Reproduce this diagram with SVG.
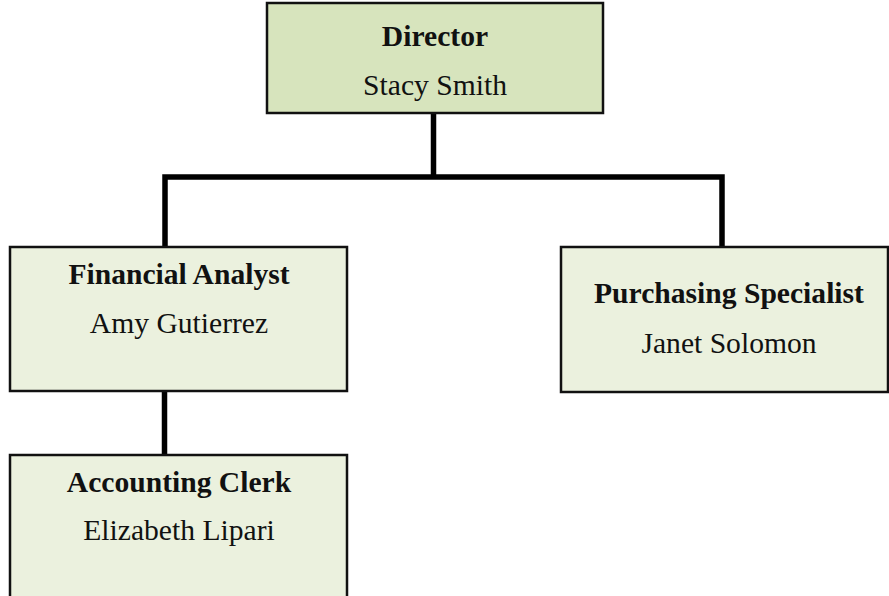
<svg xmlns="http://www.w3.org/2000/svg" width="889" height="596" viewBox="0 0 889 596">
<style>
.box{stroke:#111;stroke-width:2.5}
.top{fill:#d7e4bd}
.sub{fill:#ebf1de}
.t{font-family:"Liberation Serif","Times New Roman",serif;font-size:29.6px;fill:#111;text-anchor:middle}
.b{font-weight:bold}
.c{stroke:#000;stroke-width:5.5;fill:none}
</style>
<rect width="889" height="596" fill="#fff"/>
<g id="connectors">
<line class="c" x1="433.5" y1="113" x2="433.5" y2="177"/>
<polyline class="c" points="165,247 165,177 722,177 722,247"/>
<line class="c" x1="164.5" y1="391" x2="164.5" y2="455"/>
</g>
<g id="director">
<rect class="box top" x="267" y="3" width="336" height="110"/>
<text class="t b" x="435" y="46">Director</text>
<text class="t" x="435" y="95">Stacy Smith</text>
</g>
<g id="financial-analyst">
<rect class="box sub" x="10" y="247" width="337" height="144"/>
<text class="t b" x="179" y="284">Financial Analyst</text>
<text class="t" x="179" y="333">Amy Gutierrez</text>
</g>
<g id="purchasing-specialist">
<rect class="box sub" x="561" y="247" width="327" height="145"/>
<text class="t b" x="729" y="303">Purchasing Specialist</text>
<text class="t" x="729" y="353">Janet Solomon</text>
</g>
<g id="accounting-clerk">
<rect class="box sub" x="10" y="455" width="337" height="150"/>
<text class="t b" x="179" y="492">Accounting Clerk</text>
<text class="t" x="179" y="540">Elizabeth Lipari</text>
</g>
</svg>
